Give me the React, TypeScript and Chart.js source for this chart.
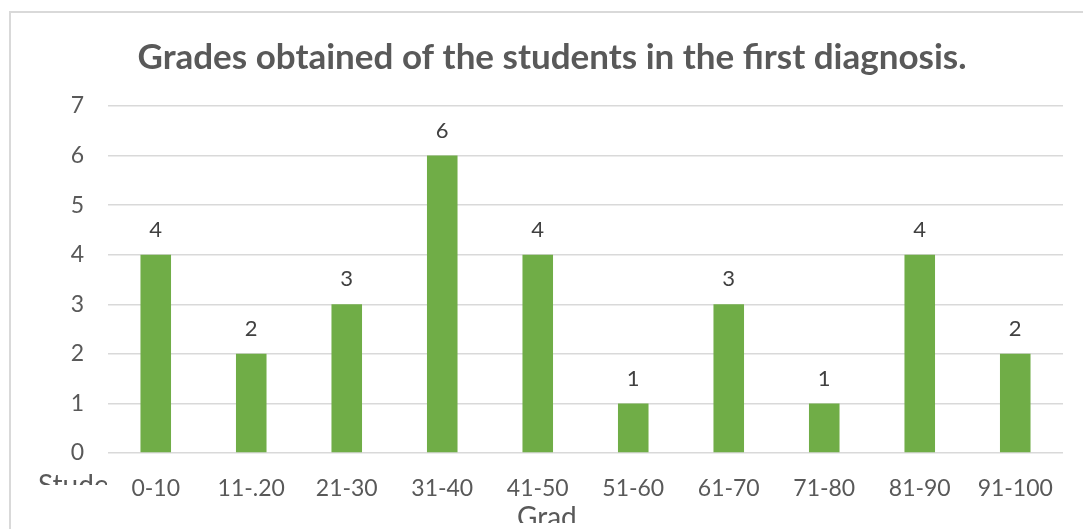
import React, { useEffect, useRef } from "react";
import { Chart, registerables } from "chart.js";

Chart.register(...registerables);

const categories = ["0-10", "11-.20", "21-30", "31-40", "41-50", "51-60", "61-70", "71-80", "81-90", "91-100"];
const students = [4, 2, 3, 6, 4, 1, 3, 1, 4, 2];
const yTicks = [0, 1, 2, 3, 4, 5, 6, 7];
const titleText = "Grades obtained of the students in the first diagnosis.";
const yAxisTitle = "Stude";
const xAxisTitle = "Grad";

const FONT = "Lato, 'Open Sans', sans-serif";
const GREEN = "#70AD47";
const GRID = "#D9D9D9";
const TEXT = "#595959";

const decorPlugin = {
  id: "decor",
  beforeDraw(chart: any) {
    const ctx = chart.ctx;
    ctx.save();
    ctx.fillStyle = "#ffffff";
    ctx.fillRect(0, 0, chart.width, chart.height);
    ctx.strokeStyle = GRID;
    ctx.lineWidth = 2;
    ctx.beginPath();
    ctx.moveTo(10, chart.height);
    ctx.lineTo(10, 12);
    ctx.lineTo(chart.width, 12);
    ctx.stroke();
    ctx.restore();
  },
  afterDraw(chart: any) {
    const ctx = chart.ctx;
    ctx.save();
    // title
    ctx.fillStyle = TEXT;
    ctx.font = `bold 35px ${FONT}`;
    ctx.textAlign = "center";
    ctx.textBaseline = "alphabetic";
    ctx.fillText(titleText, 552, 69);

    // data labels
    const meta = chart.getDatasetMeta(0);
    ctx.fillStyle = "#404040";
    ctx.font = `22px ${FONT}`;
    ctx.textBaseline = "middle";
    meta.data.forEach((bar: any, i: number) => {
      ctx.fillText(String(students[i]), bar.x, bar.y - 25);
    });

    // clipped axis titles
    ctx.textAlign = "left";
    ctx.textBaseline = "alphabetic";
    ctx.font = `28px ${FONT}`;
    ctx.fillStyle = TEXT;
    ctx.save();
    ctx.beginPath();
    ctx.rect(0, 0, 107, 485);
    ctx.clip();
    ctx.fillText(yAxisTitle, 38, 495);
    ctx.restore();

    ctx.save();
    ctx.beginPath();
    ctx.rect(0, 0, chart.width, 523);
    ctx.clip();
    ctx.fillText(xAxisTitle, 517, 527);
    ctx.restore();

    ctx.restore();
  },
};

export default function App() {
  const ref = useRef<HTMLCanvasElement>(null);
  useEffect(() => {
    if (!ref.current) return;
    const chart = new Chart(ref.current, {
      type: "bar",
      data: {
        labels: categories,
        datasets: [
          {
            data: students,
            backgroundColor: GREEN,
            borderWidth: 0,
            barPercentage: 0.32,
            categoryPercentage: 1,
          },
        ],
      },
      options: {
        animation: false,
        responsive: false,
        devicePixelRatio: 1,
        layout: { padding: { left: 0, right: 20, top: 106, bottom: 0 } },
        plugins: { legend: { display: false }, title: { display: false }, tooltip: { enabled: false } },
        scales: {
          x: {
            grid: { display: false, drawTicks: false },
            border: { display: false },
            ticks: { color: TEXT, font: { family: FONT, size: 23 }, padding: 22, maxRotation: 0, autoSkip: false },
            afterFit: (s: any) => {
              s.height = 76;
            },
          },
          y: {
            min: 0,
            max: 7,
            afterBuildTicks: (s: any) => {
              s.ticks = yTicks.map((v) => ({ value: v }));
            },
            grid: { color: GRID, lineWidth: 1.5, drawTicks: false },
            border: { display: false },
            ticks: { color: TEXT, font: { family: FONT, size: 23 }, padding: 24 },
            afterFit: (s: any) => {
              s.width = 108;
            },
          },
        },
      },
      plugins: [decorPlugin],
    });
    return () => chart.destroy();
  }, []);
  return (
    <div style={{ position: "absolute", left: 0, top: 0, width: 1083, height: 529 }}>
      <canvas ref={ref} width={1083} height={529} style={{ display: "block" }} />
    </div>
  );
}
